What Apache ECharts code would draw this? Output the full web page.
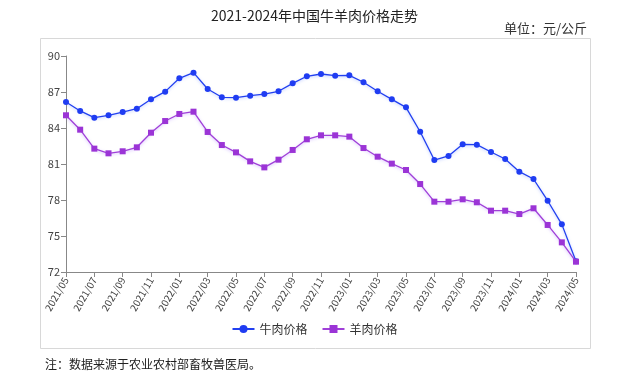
<!DOCTYPE html>
<html><head><meta charset="utf-8">
<script src="https://cdn.jsdelivr.net/npm/echarts@6/dist/echarts.min.js"></script>
<style>html,body{margin:0;padding:0;background:#fff}#c{width:629px;height:380px}</style>
</head><body><div id="c"></div>
<script>
const categories = ['2021/05','2021/06','2021/07','2021/08','2021/09','2021/10','2021/11','2021/12','2022/01','2022/02','2022/03','2022/04','2022/05','2022/06','2022/07','2022/08','2022/09','2022/10','2022/11','2022/12','2023/01','2023/02','2023/03','2023/04','2023/05','2023/06','2023/07','2023/08','2023/09','2023/10','2023/11','2023/12','2024/01','2024/02','2024/03','2024/04','2024/05'];
const beef = [86.17,85.42,84.86,85.06,85.33,85.61,86.39,87.03,88.14,88.61,87.25,86.56,86.53,86.69,86.83,87.06,87.72,88.31,88.5,88.36,88.39,87.81,87.06,86.39,85.72,83.69,81.33,81.67,82.64,82.61,82.0,81.42,80.36,79.75,77.94,75.97,72.89];
const mutton = [85.06,83.86,82.28,81.89,82.06,82.39,83.61,84.58,85.17,85.36,83.67,82.58,81.97,81.22,80.72,81.36,82.17,83.06,83.39,83.39,83.28,82.33,81.61,81.03,80.5,79.33,77.86,77.86,78.06,77.81,77.11,77.11,76.83,77.31,75.92,74.47,72.86];
const yTicks = [72,75,78,81,84,87,90];

const chart = echarts.init(document.getElementById('c'), null, {renderer:'canvas'});
const font = '"Noto Sans CJK SC", sans-serif';
chart.setOption({
  animation:false,
  backgroundColor:'#fff',
  title:[
    {text:'2021-2024年中国牛羊肉价格走势', left:'center', top:4, textStyle:{fontSize:14, fontWeight:'normal', color:'#222', fontFamily:font}},
    {text:'单位：元/公斤', right:37, top:17, textStyle:{fontSize:13, fontWeight:'normal', color:'#333', fontFamily:font}},
    {text:'注：数据来源于农业农村部畜牧兽医局。', left:40, top:353, textStyle:{fontSize:12, fontWeight:'normal', color:'#222', fontFamily:font}}
  ],
  graphic:[{type:'rect', shape:{x:40.5,y:38.5,width:550,height:310}, style:{fill:null, stroke:'#d8d8d8', lineWidth:1}, z:-1}],
  legend:{bottom:40, left:'center', itemWidth:22, itemHeight:10, itemGap:14, textStyle:{fontSize:12, color:'#333', fontFamily:font}, data:['牛肉价格','羊肉价格']},
  grid:{left:66, right:53, top:56, bottom:108},
  xAxis:{type:'category', data:categories, boundaryGap:false,
    axisLine:{lineStyle:{color:'#888'}},
    axisTick:{interval:1, lineStyle:{color:'#888'}},
    axisLabel:{interval:1, rotate:60, fontSize:10, color:'#444', fontFamily:font, margin:6}
  },
  yAxis:{type:'value', min:72, max:90, interval:3,
    axisLine:{show:true, lineStyle:{color:'#888'}},
    axisTick:{show:true, lineStyle:{color:'#888'}},
    splitLine:{show:false},
    axisLabel:{fontSize:11, color:'#444', fontFamily:font, margin:6}
  },
  series:[
    {name:'牛肉价格', type:'line', data:beef, symbol:'circle', symbolSize:6,
     lineStyle:{color:'#2240f0', width:1.3, shadowColor:'rgba(120,150,255,0.5)', shadowBlur:3, shadowOffsetY:1},
     itemStyle:{color:'#1f3cf2'}},
    {name:'羊肉价格', type:'line', data:mutton, symbol:'rect', symbolSize:6,
     lineStyle:{color:'#a040d8', width:1.3, shadowColor:'rgba(170,120,255,0.5)', shadowBlur:3, shadowOffsetY:1},
     itemStyle:{color:'#9b34d6'}}
  ]
});
</script></body></html>
